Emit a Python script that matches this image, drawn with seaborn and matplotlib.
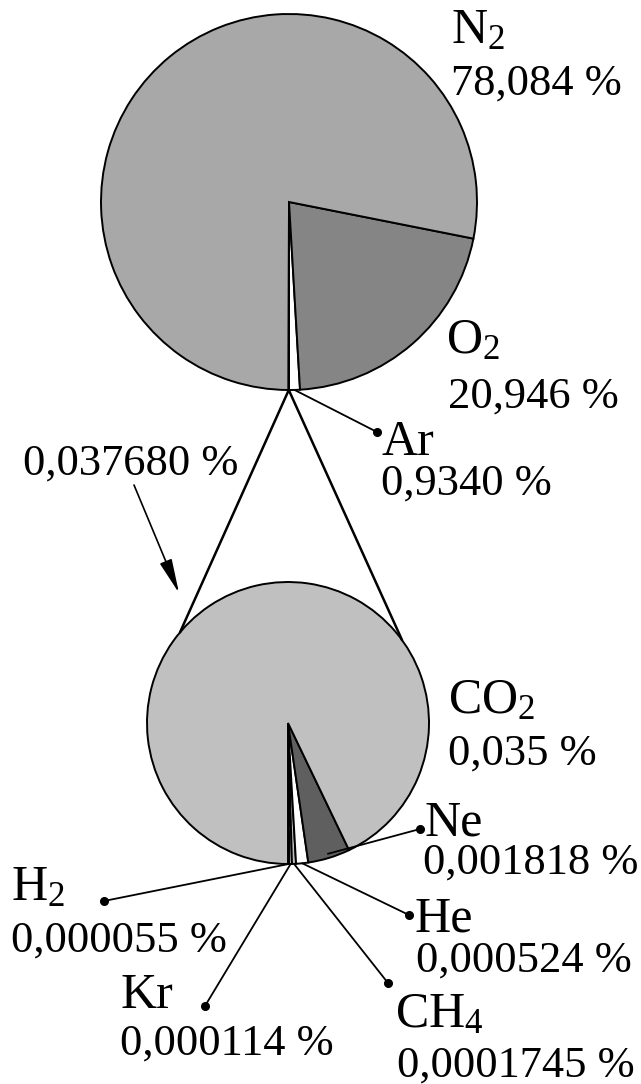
import numpy as np
import matplotlib
matplotlib.use("Agg")
import matplotlib.pyplot as plt
import seaborn as sns

# composition of dry air, % by volume
air_gases = ["N$_2$", "O$_2$", "Ar", "rest"]
air_percent = [78.084, 20.946, 0.9340, 0.037680]
air_text = ["78,084 %", "20,946 %", "0,9340 %", "0,037680 %"]

# what the 0,037680 % "rest" is made of
trace_gases = ["CO$_2$", "Ne", "He", "CH$_4$", "Kr", "H$_2$"]
trace_percent = [0.035, 0.001818, 0.000524, 0.0001745, 0.000114, 0.000055]
trace_text = ["0,035 %", "0,001818 %", "0,000524 %", "0,0001745 %", "0,000114 %", "0,000055 %"]

H = 1084
def Y(y):
    # picture rows (top down) -> axes units (bottom up)
    return H - y

sns.set_theme(style="white")
plt.rcParams["font.family"] = ["Liberation Serif", "DejaVu Serif"]
plt.rcParams["mathtext.default"] = "regular"
plt.rcParams["text.color"] = "black"

greys = sns.color_palette(["#a8a8a8", "#858585", "#ffffff", "#ffffff"])
greys2 = sns.color_palette(["#c0c0c0", "#5f5f5f", "#ffffff", "#c0c0c0", "#ffffff", "#c0c0c0"])

fig = plt.figure(figsize=(6.41, 10.84), dpi=100)
ax = fig.add_axes([0, 0, 1, 1])

edge = dict(edgecolor="black", linewidth=1.4)

# big pie, counterclockwise from the bottom: Ar, O2, N2, rest
top_order = [2, 1, 0, 3]
w_top, _ = ax.pie([air_percent[i] for i in top_order],
                  colors=[greys[i] for i in top_order],
                  startangle=-90, center=(289, Y(202)), radius=188,
                  wedgeprops=edge)
top = {air_gases[i]: w for i, w in zip(top_order, w_top)}

# small pie: H2, Kr, CH4, He, Ne, CO2
bot_order = [5, 4, 3, 2, 1, 0]
w_bot, _ = ax.pie([trace_percent[i] for i in bot_order],
                  colors=[greys2[i] for i in bot_order],
                  startangle=-90, center=(288, Y(723)), radius=141,
                  wedgeprops=edge)
bot = {trace_gases[i]: w for i, w in zip(bot_order, w_bot)}


def rim(w, frac=1.0, ang=None):
    a = np.deg2rad((w.theta1 + w.theta2) / 2 if ang is None else ang)
    cx, cy = w.center
    return cx + frac * w.r * np.cos(a), cy + frac * w.r * np.sin(a)


def leader(start, dot):
    ax.plot([start[0], dot[0]], [start[1], dot[1]], color="black", lw=1.3,
            solid_capstyle="round")
    ax.plot(dot[0], dot[1], "o", ms=5.5, color="black")


FORM = 36
VAL = 32

def label(name, value, xy_name, xy_val):
    ax.text(xy_name[0], Y(xy_name[1]), name, fontsize=FORM, va="baseline", ha="left")
    ax.text(xy_val[0], Y(xy_val[1]), value, fontsize=VAL, va="baseline", ha="left")


############ big pie labels ############
label(air_gases[0], air_text[0], (451, 43), (451, 95))
label(air_gases[1], air_text[1], (446, 353), (448, 408))
label(air_gases[2], air_text[2], (381, 455), (381, 495))
leader(rim(top["Ar"]), (377, Y(432)))

########### zoom cone + arrow ###########
apex = rim(top["rest"])
co2 = bot["CO$_2$"]
for ang in (140, 36):
    end = rim(co2, ang=ang)
    ax.plot([apex[0], end[0]], [apex[1], end[1]], color="black", lw=1.8)

ax.text(23, Y(475), air_text[3], fontsize=VAL, va="baseline", ha="left")
ax.annotate("", xy=(179, Y(593)), xytext=(134, Y(485)),
            arrowprops=dict(arrowstyle="-|>,head_length=0.7,head_width=0.13",
                            color="black", lw=1.2,
                            mutation_scale=30, shrinkA=0, shrinkB=0))

############ small pie labels ############
label(trace_gases[0], trace_text[0], (448, 713), (448, 765))
label(trace_gases[1], trace_text[1], (425, 835), (423, 874))
leader(rim(bot["Ne"], 0.97), (420, Y(829)))
label(trace_gases[2], trace_text[2], (414, 932), (416, 972))
leader(rim(bot["He"]), (409, Y(915)))
label(trace_gases[3], trace_text[3], (395, 1027), (397, 1077))
leader(rim(bot["CH$_4$"]), (388, Y(983)))
label(trace_gases[4], trace_text[4], (120, 1008), (120, 1055))
leader(rim(bot["Kr"]), (205, Y(1006)))
label(trace_gases[5], trace_text[5], (11, 900), (11, 952))
leader(rim(bot["H$_2$"]), (104, Y(901)))

ax.set_xlim(0, 641)
ax.set_ylim(0, H)
ax.set_aspect("equal")
ax.axis("off")

fig.savefig("out.png", dpi=100)
